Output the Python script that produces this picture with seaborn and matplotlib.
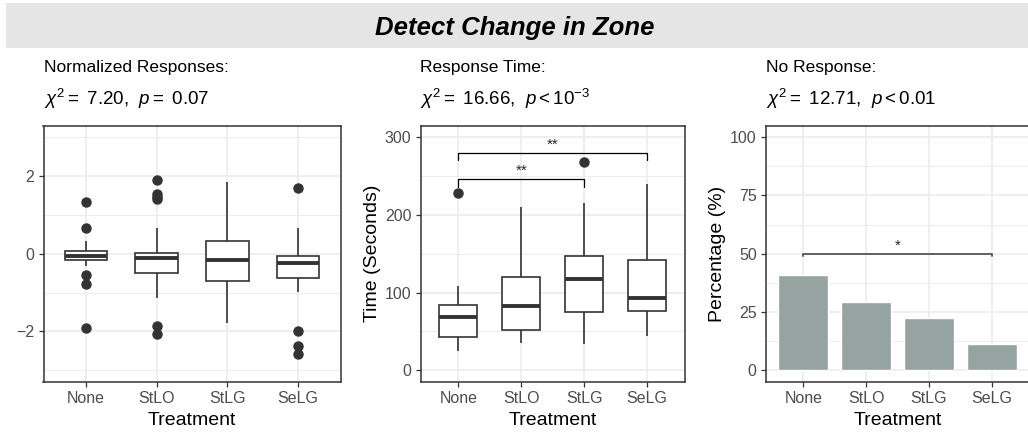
import numpy as np
import pandas as pd
import matplotlib
matplotlib.use("Agg")
import matplotlib.pyplot as plt
from matplotlib.ticker import MultipleLocator, FixedLocator
from matplotlib.patches import Rectangle
import seaborn as sns

# ---------------- data ----------------
treatments = ["None", "StLO", "StLG", "SeLG"]

# Normalized responses: box statistics
norm_q1 = [-0.15, -0.50, -0.70, -0.62]
norm_median = [-0.05, -0.11, -0.15, -0.24]
norm_q3 = [0.07, 0.02, 0.33, -0.05]
norm_whislo = [-0.31, -1.15, -1.79, -0.99]
norm_whishi = [0.32, 0.66, 1.84, 0.66]
norm_outliers = [[1.34, 0.67, -0.55, -0.78, -1.91],
                 [1.91, 1.54, 1.47, 1.40, -1.86, -2.06],
                 [],
                 [1.68, -1.99, -2.38, -2.58]]

# Response time (seconds): box statistics
time_q1 = [42.4, 51.8, 74.5, 75.8]
time_median = [68.5, 82.2, 117.8, 93.4]
time_q3 = [84.0, 120.3, 146.5, 142.2]
time_whislo = [25.3, 35.1, 34.3, 44.5]
time_whishi = [108.8, 210.7, 215.0, 239.4]
time_outliers = [[227.8], [], [268.5], []]

# No response percentage
noresp_pct = [40.8, 29.4, 22.5, 11.4]

# significance brackets: (from, to, height, label)
time_brackets = [("None", "StLG", 246, "**"), ("None", "SeLG", 280, "**")]
noresp_brackets = [("None", "SeLG", 50, "*")]

title = "Detect Change in Zone"
sub_names = ["Normalized Responses:", "Response Time:", "No Response:"]
sub_stats = [r"$\chi^2 =$ 7.20,  $p =$ 0.07",
             r"$\chi^2 =$ 16.66,  $p < 10^{-3}$",
             r"$\chi^2 =$ 12.71,  $p < 0.01$"]


def sample_from_stats(q1, med, q3, lo, hi, outs):
    """Build a value list whose box statistics equal the given ones."""
    lows = sorted(o for o in outs if o < q1) + [lo]
    highs = [hi] + sorted(o for o in outs if o > q3)
    k = max(len(lows), len(highs))
    return (lows + [q1] * (k - len(lows)) + [q1] + [med] * (k - 1) + [med]
            + [med] * (k - 1) + [q3] + [q3] * (k - len(highs)) + highs)


def build_df(q1s, meds, q3s, los, his, outs):
    rows = []
    for t, a, b, c, d, e, f in zip(treatments, q1s, meds, q3s, los, his, outs):
        for v in sample_from_stats(a, b, c, d, e, f):
            rows.append((t, v))
    return pd.DataFrame(rows, columns=["Treatment", "value"])


norm_df = build_df(norm_q1, norm_median, norm_q3, norm_whislo, norm_whishi, norm_outliers)
time_df = build_df(time_q1, time_median, time_q3, time_whislo, time_whishi, time_outliers)
bar_df = pd.DataFrame({"Treatment": treatments, "pct": noresp_pct})

# ---------------- style ----------------
sns.set_theme(style="white")
plt.rcParams["font.family"] = ["Liberation Sans", "DejaVu Sans"]
plt.rcParams["mathtext.fontset"] = "custom"
plt.rcParams["mathtext.rm"] = "Liberation Sans"
plt.rcParams["mathtext.it"] = "Liberation Sans:italic"
plt.rcParams["mathtext.bf"] = "Liberation Sans:bold"

W, H = 1028, 434
fig = plt.figure(figsize=(W / 100, H / 100), dpi=100)
fig.patch.set_facecolor("white")

# title strip
fig.patches.append(Rectangle((6 / W, 1 - 47.5 / H), 1.1, 44.5 / H,
                             transform=fig.transFigure, facecolor="#E5E5E5",
                             edgecolor="none", zorder=0))
fig.text(515 / W, 1 - 28.5 / H, title, ha="center", va="center",
         fontsize=18.5, fontweight="bold", fontstyle="italic", color="black")

top_px, bot_px = 125.5, 382.0
panels = [(43.5, 340.5), (420.5, 685.0), (765.7, 1029.3)]
axes = []
for l, r in panels:
    ax = fig.add_axes([l / W, 1 - bot_px / H, (r - l) / W, (bot_px - top_px) / H])
    axes.append(ax)

box_kw = dict(order=treatments, width=0.6, color="white", linecolor="#333333",
              linewidth=1.2, showcaps=False,
              flierprops=dict(marker="o", markerfacecolor="#333333",
                              markeredgecolor="#333333", markersize=6.5),
              medianprops=dict(linewidth=2.8, color="#333333"))

ax1, ax2, ax3 = axes
sns.boxplot(data=norm_df, x="Treatment", y="value", ax=ax1, **box_kw)
sns.boxplot(data=time_df, x="Treatment", y="value", ax=ax2, **box_kw)
sns.barplot(data=bar_df, x="Treatment", y="pct", order=treatments, ax=ax3,
            color="#95A3A1", saturation=1, width=0.8, errorbar=None)

ylims = [(-3.3, 3.3), (-15, 315), (-5, 105)]
majors = [[-2, 0, 2], [0, 100, 200, 300], [0, 25, 50, 75, 100]]
minors = [[-3, -1, 1, 3], [50, 150, 250], [12.5, 37.5, 62.5, 87.5]]
ylabels = ["", "Time (Seconds)", "Percentage (%)"]

for i, ax in enumerate(axes):
    ax.set_xlim(-0.6, 3.6)
    ax.set_ylim(*ylims[i])
    ax.yaxis.set_major_locator(FixedLocator(majors[i]))
    ax.yaxis.set_minor_locator(FixedLocator(minors[i]))
    ax.set_axisbelow(True)
    ax.grid(True, which="major", axis="both", color="#EBEBEB", linewidth=1.1)
    ax.grid(True, which="minor", axis="y", color="#EBEBEB", linewidth=0.6)
    ax.tick_params(which="major", length=3.5, width=0.9, color="#333333",
                   labelsize=11.5, labelcolor="#4D4D4D", pad=3, bottom=True, left=True)
    ax.tick_params(which="minor", length=0)
    for sp in ax.spines.values():
        sp.set_visible(True)
        sp.set_color("#333333")
        sp.set_linewidth(1.1)
    ax.set_xlabel("Treatment", fontsize=14, color="black", labelpad=4)
    ax.set_ylabel(ylabels[i], fontsize=14, color="black", labelpad=3)
    ax.set_facecolor("white")
    # subtitles
    x0 = panels[i][0] / W
    fig.text(x0, 1 - 71.7 / H, sub_names[i], ha="left", va="baseline",
             fontsize=12.5, color="black")
    fig.text(x0, 1 - 105 / H, sub_stats[i], ha="left", va="baseline",
             fontsize=13.5, color="black")

# significance brackets
for a, b, h, lab in time_brackets:
    xa, xb = treatments.index(a), treatments.index(b)
    ax2.plot([xa, xa, xb, xb], [h - 10, h, h, h - 10], color="black", lw=0.9,
             zorder=5)
    ax2.text((xa + xb) / 2, h + 1.5, lab, ha="center", va="bottom", fontsize=11)

for a, b, h, lab in noresp_brackets:
    xa, xb = treatments.index(a), treatments.index(b)
    ax3.plot([xa, xa, xb, xb], [h - 1, h, h, h - 1], color="#555555", lw=1.3,
             zorder=5)
    ax3.text((xa + xb) / 2, h + 0.6, lab, ha="center", va="bottom", fontsize=11)

fig.savefig("out.png", dpi=100)
